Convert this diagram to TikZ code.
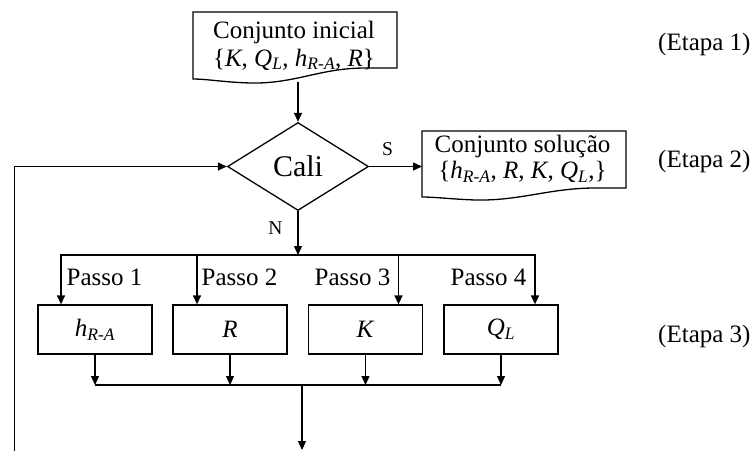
\documentclass[tikz,border=0pt]{standalone}
\usepackage{fontspec}
\setmainfont{Liberation Serif}
\usetikzlibrary{shapes.geometric,arrows.meta,calc}
\tikzset{
  flow/.style={line width=1.3pt},
  arr/.style={flow,-{Triangle[length=9pt,width=8pt]}},
  txt/.style={font=\fontsize{25}{28.5}\selectfont, inner sep=0pt, anchor=base},
  lbl/.style={font=\fontsize{19.5}{22}\selectfont, inner sep=0pt, anchor=base},
  stage/.style={font=\fontsize{25}{28.5}\selectfont, inner sep=0pt, anchor=base west},
  stepbox/.style={draw, flow, minimum width=114pt, minimum height=49pt, inner sep=0pt,
    font=\fontsize{25}{28.5}\selectfont},
  docpath/.style={flow, line join=miter},
}
\newcommand\hra{\textit{h\textsubscript{R-A}}}
\newcommand\ql{\textit{Q\textsubscript{L}}}
\begin{document}
\begin{tikzpicture}[x=1pt,y=-1pt]
\useasboundingbox (0,0) rectangle (751,451);

% initial set (document shape)
\draw[docpath] (193,12) -- (397,12) -- (397,68) -- (365,68)
  .. controls (320,68) and (295,84) .. (250,83)
  .. controls (222,82) and (207,79) .. (193,79) -- cycle;
\node[txt] (ini1) at (294,38) {Conjunto inicial};
\node[txt] (ini2) at (294,66) {\{\textit{K}, \ql, \hra, \textit{R}\}};
\coordinate (iniout) at (298,82);

% decision
\node[diamond, draw, flow, minimum width=141pt, minimum height=88pt, inner sep=0pt,
  font=\fontsize{30}{34}\selectfont] (cali) at (298,166.5) {Cali};
\draw[arr] (iniout) -- (cali.north);

% solution set (document shape)
\draw[docpath] (422,131) -- (626,131) -- (626,188) -- (595,188)
  .. controls (550,188) and (520,201) .. (475,200)
  .. controls (450,199) and (435,197) .. (422,197) -- cycle;
\node[txt] (sol1) at (522.5,152) {Conjunto solução};
\node[txt] (sol2) at (522.5,178.5) {\{\hra, \textit{R}, \textit{K}, \ql,\}};
\coordinate (solin) at (422,166.5);
\draw[arr] (cali.east) -- (solin);
\node[lbl] (yes) at (387.5,155) {S};
\node[lbl] (no) at (275.5,234) {N};

% stage labels
\node[stage] (e1) at (658,50) {(Etapa 1)};
\node[stage] (e2) at (658,167) {(Etapa 2)};
\node[stage] (e3) at (658,342) {(Etapa 3)};

% parameter steps
\node[stepbox] (b1) at (95,329.5) {\hra};
\node[stepbox] (b2) at (230,329.5) {\textit{R}};
\node[stepbox] (b3) at (365.5,329.5) {\textit{K}};
\node[stepbox] (b4) at (501,329.5) {\ql};

\node[txt] (p1) at (104.5,285) {Passo 1};
\node[txt] (p2) at (239.5,285) {Passo 2};
\node[txt] (p3) at (352.5,285) {Passo 3};
\node[txt] (p4) at (488.5,285) {Passo 4};

\coordinate (split) at (298,255);
\draw[arr] (cali.south) -- (split);
\draw[arr] (split) -| ($(b1.north)+(-34,0)$);
\draw[arr] (split) -| ($(b2.north)+(-33,0)$);
\draw[arr] (split) -| ($(b3.north)+(33,0)$);
\draw[arr] (split) -| ($(b4.north)+(34,0)$);

% merge and feedback
\coordinate (join) at (302,385);
\foreach \b in {b1,b2,b3,b4}
  \draw[arr] (\b.south) -- (\b.south |- join);
\draw[flow] (b1.south |- join) -- (b4.south |- join);
\coordinate (exit) at (302,450);
\draw[arr] (join) -- (exit);
\coordinate (loopin) at (14.5,451);
\draw[arr] (loopin) |- (cali.west);
\end{tikzpicture}
\end{document}
